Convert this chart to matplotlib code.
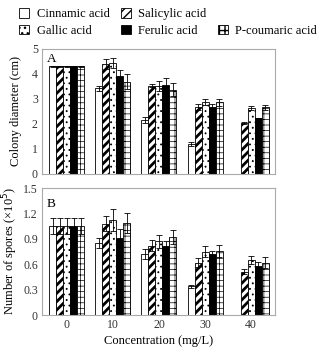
import numpy as np
import matplotlib
matplotlib.use('Agg')
import matplotlib.pyplot as plt
from matplotlib.patches import Patch

plt.rcParams['font.family'] = ['Liberation Serif', 'DejaVu Serif']

concentrations = ['0', '10', '20', '30', '40']
acids = ['Cinnamic acid', 'Salicylic acid', 'Gallic acid', 'Ferulic acid', 'P-coumaric acid']

# colony diameter (cm)
diameter = [
    [4.3, 3.42, 2.17, 1.2, 0.0],
    [4.3, 4.38, 3.52, 2.66, 2.03],
    [4.3, 4.43, 3.52, 2.86, 2.62],
    [4.3, 3.9, 3.57, 2.66, 2.23],
    [4.3, 3.68, 3.37, 2.86, 2.66],
]
diameter_err = [
    [0.02, 0.1, 0.12, 0.08, 0.0],
    [0.02, 0.2, 0.06, 0.12, 0.05],
    [0.02, 0.2, 0.2, 0.12, 0.08],
    [0.02, 0.25, 0.25, 0.12, 0.0],
    [0.02, 0.3, 0.25, 0.15, 0.1],
]

# number of spores (x10^5)
spores = [
    [1.05, 0.85, 0.72, 0.34, 0.0],
    [1.05, 1.08, 0.82, 0.62, 0.51],
    [1.05, 1.12, 0.87, 0.75, 0.65],
    [1.05, 0.91, 0.81, 0.72, 0.58],
    [1.05, 1.09, 0.92, 0.76, 0.62],
]
spores_err = [
    [0.09, 0.06, 0.06, 0.02, 0.0],
    [0.09, 0.09, 0.06, 0.05, 0.03],
    [0.09, 0.13, 0.08, 0.07, 0.05],
    [0.09, 0.1, 0.06, 0.04, 0.05],
    [0.09, 0.12, 0.08, 0.07, 0.07],
]

faces = ['white', 'white', 'white', 'black', 'white']
hatches = [None, '////', '...', None, '+++']
hatch_lw = [0.6, 2.0, 0.6, 0.6, 0.5]

fig = plt.figure(figsize=(3.17, 3.47), dpi=100)
axA = fig.add_axes([0.1325, 0.4986, 0.735, 0.3602])
axB = fig.add_axes([0.1325, 0.0922, 0.735, 0.3660])

x = np.arange(len(concentrations))
w = 0.152


def draw(ax, vals, errs):
    for i in range(len(acids)):
        pos = x + (i - 2) * w
        bars = ax.bar(pos, vals[i], w, color=faces[i], edgecolor='black',
                      linewidth=0.6, hatch=hatches[i])
        for b in bars:
            if hasattr(b, 'set_hatch_linewidth'):
                b.set_hatch_linewidth(hatch_lw[i])
        v = np.array(vals[i])
        e = np.array(errs[i])
        m = v > 0
        ax.errorbar(pos[m], v[m], yerr=e[m], fmt='none', ecolor='black',
                    elinewidth=0.6, capsize=2, capthick=0.6)
    ax.set_xlim(-0.54, 4.52)
    for s in ax.spines.values():
        s.set_color('#aaaaaa')
        s.set_linewidth(0.8)
    ax.tick_params(length=0, labelsize=8.5, colors='#333333', pad=3)


draw(axA, diameter, diameter_err)
axA.set_ylim(0, 5)
axA.set_yticks([0, 1, 2, 3, 4, 5])
axA.set_xticks([])
axA.set_ylabel('Colony diameter (cm)', fontsize=9, labelpad=7)
axA.text(0.02, 0.97, 'A', transform=axA.transAxes, fontsize=9.5, va='top')

draw(axB, spores, spores_err)
axB.set_ylim(0, 1.5)
axB.set_yticks([0, 0.3, 0.6, 0.9, 1.2, 1.5])
axB.set_yticklabels(['0', '0.3', '0.6', '0.9', '1.2', '1.5'])
axB.set_xticks(x)
axB.set_xticklabels(concentrations)
axB.set_ylabel('Number of spores (\u00d710$^5$)', fontsize=9, labelpad=2)
axB.set_xlabel('Concentration (mg/L)', fontsize=9, labelpad=3)
axB.text(0.02, 0.92, 'B', transform=axB.transAxes, fontsize=9.5, va='top')

handles = []
for i in range(len(acids)):
    handles.append(Patch(facecolor=faces[i], edgecolor='black', linewidth=0.6,
                         hatch=hatches[i]))
blank = Patch(facecolor='none', edgecolor='none')
leg_handles = [handles[0], handles[2], handles[1], handles[3], blank, handles[4]]
leg_labels = [acids[0], acids[2], acids[1], acids[3], '', acids[4]]
fig.legend(leg_handles, leg_labels, ncol=3, loc='upper left',
           bbox_to_anchor=(0.035, 1.0), frameon=False, fontsize=9,
           handlelength=0.8, handleheight=0.8, handletextpad=0.6,
           columnspacing=0.9, labelspacing=0.35, borderaxespad=0.25)

fig.savefig('out.png', dpi=100)
